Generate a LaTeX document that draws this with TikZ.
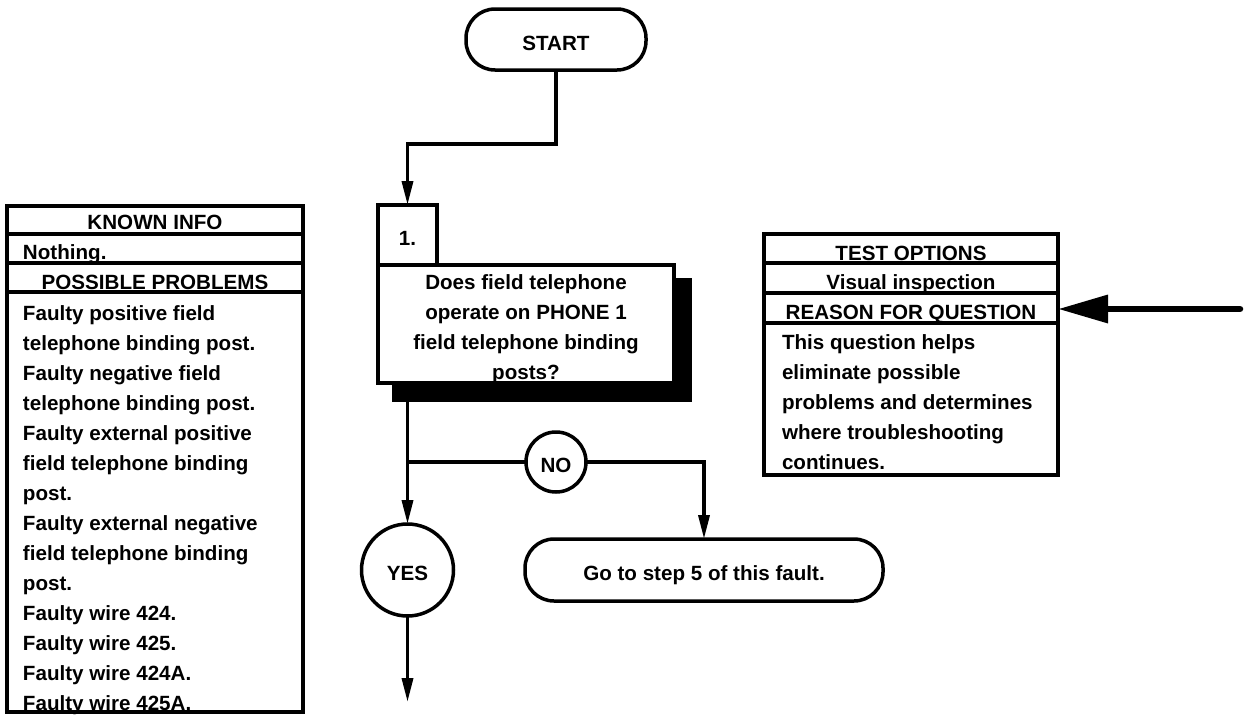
\documentclass[tikz,border=0pt]{standalone}
\usepackage{fontspec}
\setmainfont{Liberation Sans}
\usetikzlibrary{arrows.meta}
\begin{document}
\begin{tikzpicture}[x=1pt,y=-1pt,
  every node/.style={font=\fontsize{20.6}{30}\selectfont\bfseries, inner sep=0pt, outer sep=0pt},
  box/.style={draw, line width=3.5pt, fill=white},
  pill/.style={box, rounded corners=29pt, text height=21pt, text depth=0pt},
  disc/.style={box, circle, text height=21pt, text depth=0pt},
  flow/.style={line width=3.5pt, -{Triangle[length=24pt,width=11pt]}},
  wire/.style={line width=3.5pt},
  cell/.style={anchor=base},
  item/.style={anchor=base west},
]
\useasboundingbox (0,0) rectangle (1247,715);

% ---- start terminal and step 1 ----
\node[pill, minimum width=180pt, minimum height=61pt] (start) at (556,39.5) {START};

\node[fill=black, minimum width=300pt, minimum height=124pt] (shadow) at (542,340) {};
\node[box, minimum width=296pt, minimum height=118pt] (question) at (526,324) {};
\node[box, minimum width=59pt, minimum height=60pt, text height=20pt, text depth=0pt] (one) at (407.5,235) {1.};
\foreach \t [count=\i] in {Does field telephone, operate on PHONE 1, field telephone binding, posts?}
  \node[cell] (q\i) at (526,259+30*\i) {\t};

\coordinate (elbow) at (407.5,144);
\draw[flow] (start.south) |- (elbow) -- (one.north);

% ---- answers ----
\node[disc, minimum size=60pt] (no) at (556,462) {NO};
\node[disc, minimum size=92pt] (yes) at (407.5,570) {YES};
\node[pill, minimum width=358pt, minimum height=62pt] (goto) at (704,570) {Go to step 5 of this fault.};

\coordinate (fork) at (407.5,462);
\coordinate (next) at (407.5,702);
\draw[flow] (one |- shadow.south) -- (yes.north);
\draw[wire] (fork) -- (no.west);
\draw[flow] (no.east) -| (goto.north);
\draw[flow] (yes.south) -- (next);

% ---- known info / possible problems table ----
\node[box, minimum width=296pt, minimum height=28pt] (known) at (155,220) {};
\node[box, minimum width=296pt, minimum height=29pt] (nothing) at (155,248.5) {};
\node[box, minimum width=296pt, minimum height=29pt] (possible) at (155,277.5) {};
\node[box, minimum width=296pt, minimum height=420pt] (problems) at (155,502) {};
\node[cell] (knowntxt) at (155,229) {KNOWN INFO};
\node[item] (nothingtxt) at (23,259) {Nothing.};
\node[cell] (possibletxt) at (155,289) {POSSIBLE PROBLEMS};
\foreach \t [count=\i] in {Faulty positive field, telephone binding post., Faulty negative field,
  telephone binding post., Faulty external positive, field telephone binding, post.,
  Faulty external negative, field telephone binding, post., Faulty wire 424.,
  Faulty wire 425., Faulty wire 424A., Faulty wire 425A.}
  \node[item] (p\i) at (23,290+30*\i) {\t};

% ---- test options / reason table ----
\node[box, minimum width=294pt, minimum height=29pt] (test) at (911,248.5) {};
\node[box, minimum width=294pt, minimum height=30pt] (visual) at (911,278) {};
\node[box, minimum width=294pt, minimum height=30pt] (reason) at (911,308) {};
\node[box, minimum width=294pt, minimum height=152pt] (why) at (911,399) {};
\node[cell] (testtxt) at (911,260) {TEST OPTIONS};
\node[cell] (visualtxt) at (911,289) {Visual inspection};
\node[cell] (reasontxt) at (911,319) {REASON FOR QUESTION};
\foreach \t [count=\i] in {This question helps, eliminate possible, problems and determines,
  where troubleshooting, continues.}
  \node[item] (r\i) at (782,319+30*\i) {\t};

\coordinate (pointer) at (1240,309);
\draw[line width=6.5pt, line cap=round, -{Triangle[length=50pt,width=27pt]}]
  (pointer) -- (reason.east |- pointer);
\end{tikzpicture}
\end{document}
